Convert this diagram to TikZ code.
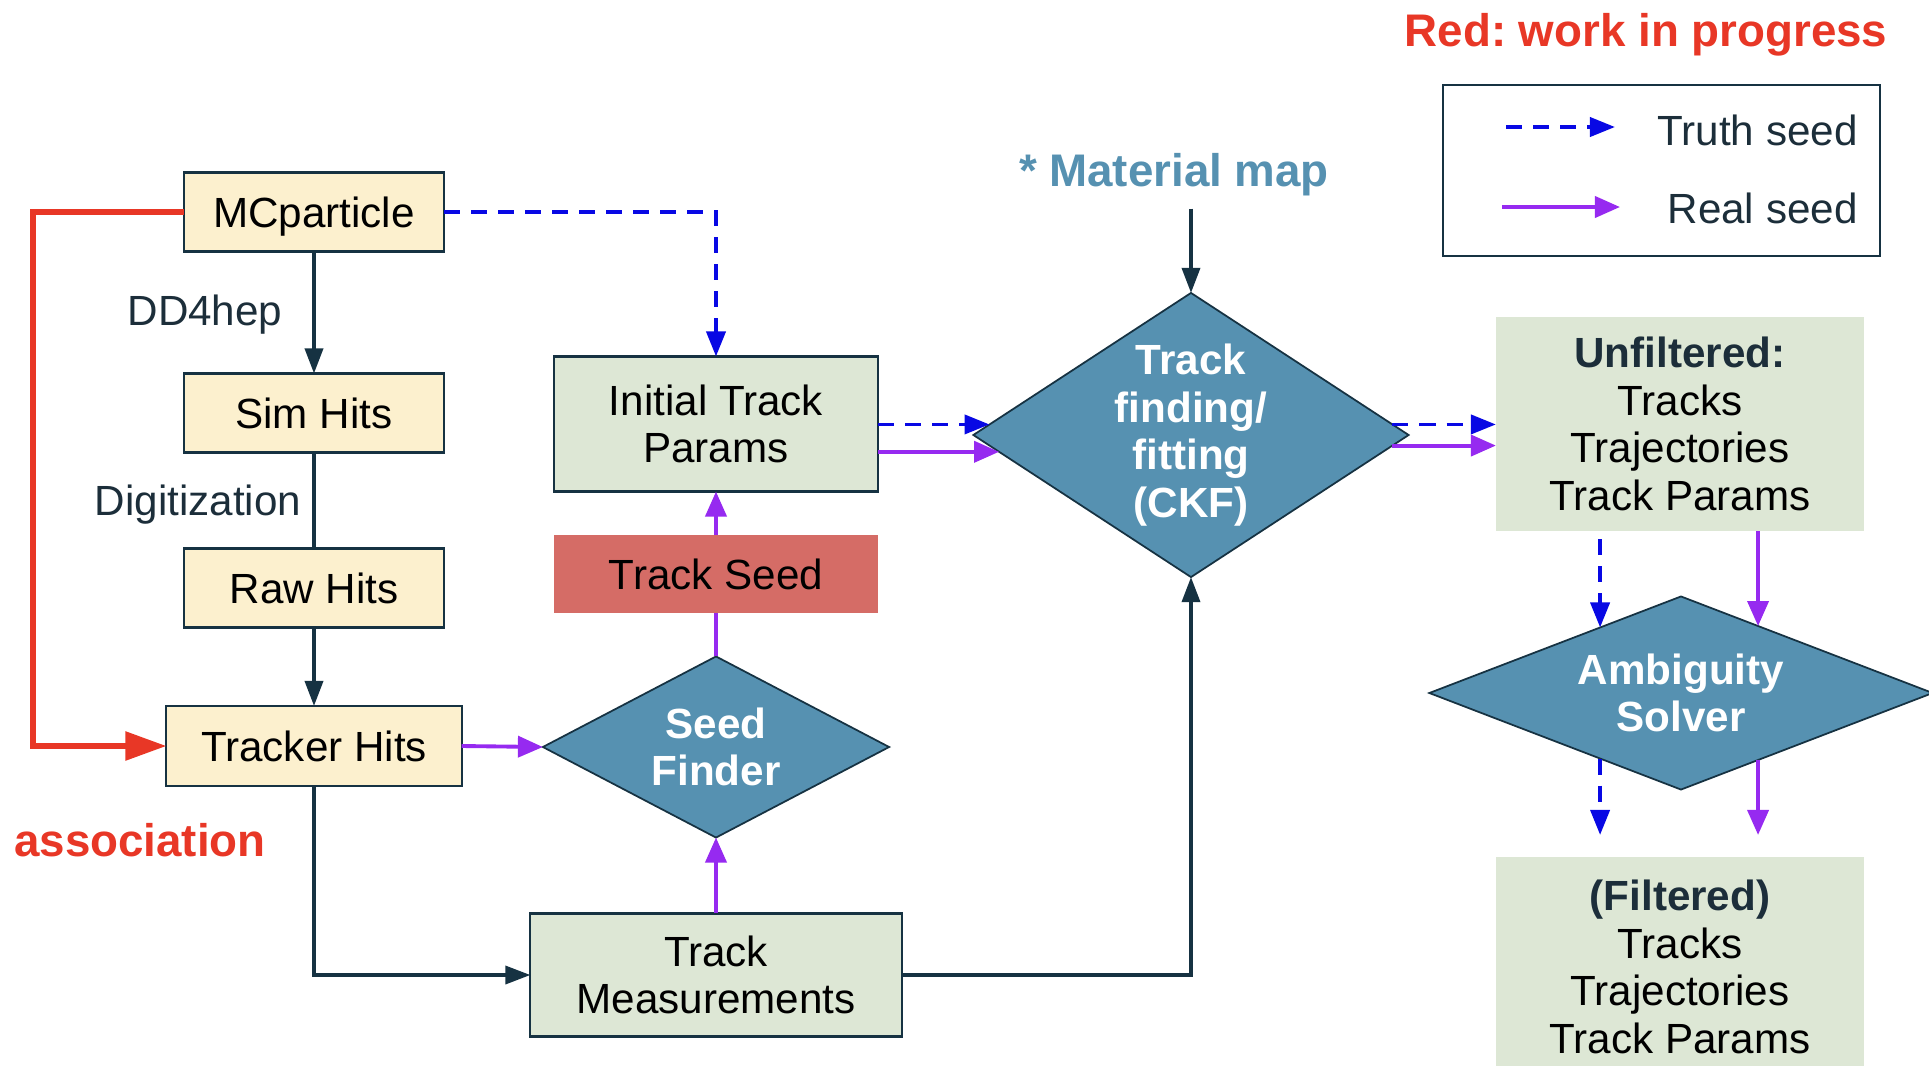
\documentclass[tikz,border=0pt]{standalone}
\usepackage{fontspec}
\setmainfont{Liberation Sans}
\usetikzlibrary{arrows.meta,shapes.geometric}
\tikzstyle{chart} = [x = 0.01cm, y = -0.01cm]
\definecolor{hitColor}{RGB}{252,240,206}
\definecolor{paramColor}{RGB}{221,231,213}
\definecolor{seedColor}{RGB}{213,108,102}
\definecolor{solverColor}{RGB}{86,145,177}
\definecolor{lineColor}{RGB}{22,50,66}
\definecolor{truthColor}{RGB}{8,8,228}
\definecolor{realColor}{RGB}{150,42,240}
\definecolor{wipColor}{RGB}{232,55,38}
\definecolor{textColor}{RGB}{28,46,58}
\tikzstyle{boxStyle} = [rectangle, draw=lineColor, line width=0.6pt, inner sep=0pt, outer sep=0pt, align=center, font=\fontsize{12}{13.5}\selectfont]
\tikzstyle{hitBox} = [boxStyle, fill=hitColor, minimum width=2.6cm, minimum height=0.79cm, text depth=0pt]
\tikzstyle{paramBox} = [boxStyle, fill=paramColor]
\tikzstyle{resultBox} = [boxStyle, draw=none, fill=paramColor, minimum width=3.68cm]
\tikzstyle{stepDiamond} = [diamond, draw=lineColor, line width=0.5pt, fill=solverColor, text=white, inner sep=0pt, outer sep=0pt, align=center, font=\fontsize{12}{13.5}\selectfont\bfseries]
\tikzstyle{flowLine} = [draw=lineColor, line width=1pt]
\tikzstyle{flowArrow} = [flowLine, -{Triangle[length=0.25cm, width=0.18cm]}]
\tikzstyle{realArrow} = [draw=realColor, line width=1.1pt, -{Triangle[length=0.25cm, width=0.21cm]}]
\tikzstyle{truthArrow} = [draw=truthColor, line width=1.1pt, dash pattern=on 0.16cm off 0.11cm, -{Triangle[length=0.25cm, width=0.19cm]}]
\tikzstyle{wipArrow} = [draw=wipColor, line width=1.6pt, -{Triangle[length=0.41cm, width=0.28cm]}]
\tikzstyle{stepLabel} = [text=textColor, font=\fontsize{12}{14}\selectfont]
\tikzstyle{noteLabel} = [font=\fontsize{13}{15}\selectfont\bfseries]
\begin{document}
\frenchspacing
\begin{tikzpicture}[chart]
  \useasboundingbox (0,0) rectangle (1929,1066);
  % simulation chain
  \node[hitBox] (mcParticle) at (314,212) {MCparticle};
  \node[hitBox] (simHits) at (314,413) {Sim Hits};
  \node[hitBox] (rawHits) at (314,588) {Raw Hits};
  \node[hitBox, minimum width=2.95cm, minimum height=0.8cm] (trackerHits) at (314,746) {Tracker Hits};
  \node[stepLabel] (dd4hep) at (205,315) {DD4hep};
  \node[stepLabel] (digitization) at (198,505) {Digitization};
  \node[noteLabel, text=wipColor] (association) at (140,840) {association};

  % seeding
  \node[paramBox, minimum width=3.24cm, minimum height=1.35cm] (initParams) at (716,424) {Initial Track\\Params};
  \node[boxStyle, draw=none, fill=seedColor, minimum width=3.24cm, minimum height=0.78cm] (trackSeed) at (716,574) {Track Seed};
  \node[stepDiamond, aspect=1.91, minimum width=3.46cm, minimum height=1.81cm] (seedFinder) at (716,747) {Seed\\Finder};
  \node[paramBox, minimum width=3.71cm, minimum height=1.23cm] (measurements) at (716,975) {Track\\Measurements};

  % fitting and solving
  \node[noteLabel, text=solverColor] (materialMap) at (1174,175) {* Material map};
  \node[stepDiamond, aspect=1.53, inner sep=-3pt, minimum width=4.35cm, minimum height=2.84cm] (ckf) at (1191,435) {Track\\finding/\\fitting\\(CKF)};
  \node[resultBox, minimum height=2.14cm] (unfiltered) at (1680,424) {\textcolor{textColor}{\bfseries Unfiltered:}\\Tracks\\Trajectories\\Track Params};
  \node[stepDiamond, aspect=2.6, minimum width=5.03cm, minimum height=1.93cm] (solver) at (1681,693) {Ambiguity\\Solver};
  \node[resultBox, minimum height=2.2cm] (filtered) at (1680,967) {\textcolor{textColor}{\bfseries (Filtered)}\\Tracks\\Trajectories\\Track Params};

  % legend
  \node[noteLabel, text=wipColor] (wipNote) at (1646,35) {Red: work in progress};
  \node[draw=lineColor, line width=0.6pt, minimum width=4.37cm, minimum height=1.71cm, inner sep=0pt] (legendBox) at (1661.5,170.5) {};
  \coordinate (truthStart) at (1506,127);
  \coordinate (truthEnd) at (1615,127);
  \coordinate (realStart) at (1502,207);
  \coordinate (realEnd) at (1620,207);
  \node[stepLabel, anchor=east] (truthLabel) at (1870,130) {Truth seed};
  \node[stepLabel, anchor=east] (realLabel) at (1870,208) {Real seed};
  \draw[truthArrow] (truthStart) -- (truthEnd);
  \draw[realArrow] (realStart) -- (realEnd);

  \draw[flowArrow] (mcParticle) -- (simHits);
  \draw[flowLine] (simHits) -- (rawHits);
  \draw[flowArrow] (rawHits) -- (trackerHits);
  \draw[wipArrow] (mcParticle.west) -- ++(-151,0) |- (trackerHits.west);
  \draw[truthArrow] (mcParticle.east) -| (initParams.north);
  \draw[flowArrow] (trackerHits.south) |- (measurements.west);
  \draw[realArrow] (trackerHits.east) -- (seedFinder.west);
  \draw[realArrow] (measurements.north) -- (seedFinder.south);
  \draw[draw=realColor, line width=1.1pt] (seedFinder.north) -- (trackSeed.south);
  \draw[realArrow] (trackSeed.north) -- (initParams.south);
  \draw[truthArrow] (initParams.east |- ckf.177) -- (ckf.177);
  \draw[realArrow] (initParams.east |- ckf.185) -- (ckf.185);
  \draw[flowArrow] (materialMap.south -| ckf.north) -- (ckf.north);
  \draw[flowArrow] (measurements.east) -| (ckf.south);
  \draw[truthArrow] (ckf.3) -- (ckf.3 -| unfiltered.west);
  \draw[realArrow] (ckf.357) -- (ckf.357 -| unfiltered.west);
  \draw[truthArrow, shorten <=0.08cm] (unfiltered.south -| solver.141) -- (solver.141);
  \draw[realArrow] (unfiltered.south -| solver.41) -- (solver.41);
  \draw[truthArrow, shorten >=0.22cm] (solver.219) -- (solver.219 |- filtered.north);
  \draw[realArrow, shorten >=0.22cm] (solver.319) -- (solver.319 |- filtered.north);
\end{tikzpicture}
\end{document}
